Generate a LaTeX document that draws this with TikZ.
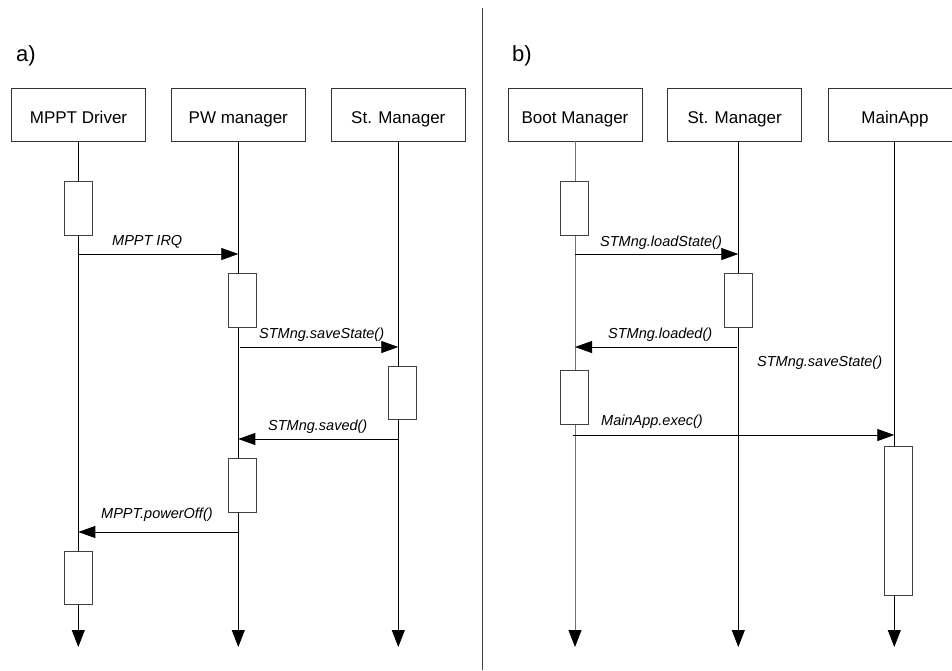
\documentclass[tikz,border=0pt]{standalone}
\usepackage{fontspec}
\setmainfont{Liberation Sans}
\usetikzlibrary{arrows.meta}
\begin{document}
\begin{tikzpicture}[x=1pt,y=-1pt,
  actor/.style={draw=black!80, fill=white, minimum width=134pt, minimum height=53pt,
    inner sep=0pt, line width=0.8pt, text height=17.6pt, text depth=0pt,
    font=\fontsize{17}{20}\selectfont},
  act/.style={draw=black!75, fill=white, minimum width=28pt, inner sep=0pt, line width=0.8pt},
  life/.style={line width=0.8pt, -{Triangle[length=17pt,width=13pt,color=black]}},
  msg/.style={line width=0.8pt, -{Triangle[length=17pt,width=12pt]}},
  lbl/.style={anchor=west, inner sep=0pt, font=\fontsize{14.5}{17}\selectfont\itshape},
  panel/.style={anchor=west, inner sep=0pt, font=\fontsize{22}{26}\selectfont}]
\useasboundingbox (0,0) rectangle (952,670);
\clip (0,0) rectangle (952,670);

% separator between the two panels
\coordinate (sepTop) at (482,8);
\coordinate (sepBot) at (482,670);
\draw[line width=0.8pt, black!75] (sepTop) -- (sepBot);

% panel titles
\node[panel] (ta) at (16,56) {a)};
\node[panel] (tb) at (512,56) {b)};

% ---------- a) ----------
\node[actor] (mppt) at (78.5,114.5) {MPPT Driver};
\node[actor] (pwm)  at (238.3,114.5) {PW manager};
\node[actor] (stmA) at (398.3,114.5) {St. Manager};

\coordinate (lM) at (78.3,141);
\coordinate (lP) at (238.3,141);
\coordinate (lS) at (398.3,141);

\draw[life] (lM) -- (lM |- 0,647);
\draw[life] (lP) -- (lP |- 0,647);
\draw[life] (lS) -- (lS |- 0,647);

\draw[msg] (lM |- 0,254) -- (lP |- 0,254);
\node[lbl] (l1) at (112,242) {MPPT IRQ};
\draw[msg] (240,347) -- (lS |- 0,347);
\node[lbl] (l2) at (259,335) {STMng.saveState()};
\draw[msg] (lS |- 0,439) -- (lP |- 0,439);
\node[lbl] (l3) at (268,427) {STMng.saved()};
\draw[msg] (lP |- 0,532) -- (lM |- 0,532);
\node[lbl] (l4) at (101,515) {MPPT.powerOff()};

\node[act, minimum height=54pt] (aM1) at (78,208) {};
\node[act, minimum height=54pt] (aP1) at (242,300) {};
\node[act, minimum height=53pt] (aS1) at (402,392.5) {};
\node[act, minimum height=54pt] (aP2) at (242,485) {};
\node[act, minimum height=53pt] (aM2) at (78,577.5) {};

% ---------- b) ----------
\node[actor] (boot) at (575,114.5) {Boot Manager};
\node[actor] (stmB) at (734.7,114.5) {St. Manager};
\node[actor] (app)  at (895,114.5) {MainApp};

\coordinate (lB) at (575,141);
\coordinate (lT) at (738.3,141);
\coordinate (lA) at (894.3,141);

\draw[life, black!55] (lB) -- (lB |- 0,647);
\draw[life] (lT) -- (lT |- 0,647);
\draw[life] (lA) -- (lA |- 0,647);

\draw[msg] (lB |- 0,254) -- (lT |- 0,254);
\node[lbl] (r1) at (600,243) {STMng.loadState()};
\draw[msg] (736.5,347) -- (lB |- 0,347);
\node[lbl] (r2) at (608,335) {STMng.loaded()};
\node[lbl] (r3) at (757,363) {STMng.saveState()};
\draw[msg] (573,435) -- (lA |- 0,435);
\node[lbl] (r4) at (601,422) {MainApp.exec()};

\node[act, minimum height=54pt] (aB1) at (574,208) {};
\node[act, minimum height=54pt] (aT1) at (738,300) {};
\node[act, minimum height=54pt] (aB2) at (574,397) {};
\node[act, minimum height=149pt] (aA1) at (898,520.5) {};
\end{tikzpicture}
\end{document}
